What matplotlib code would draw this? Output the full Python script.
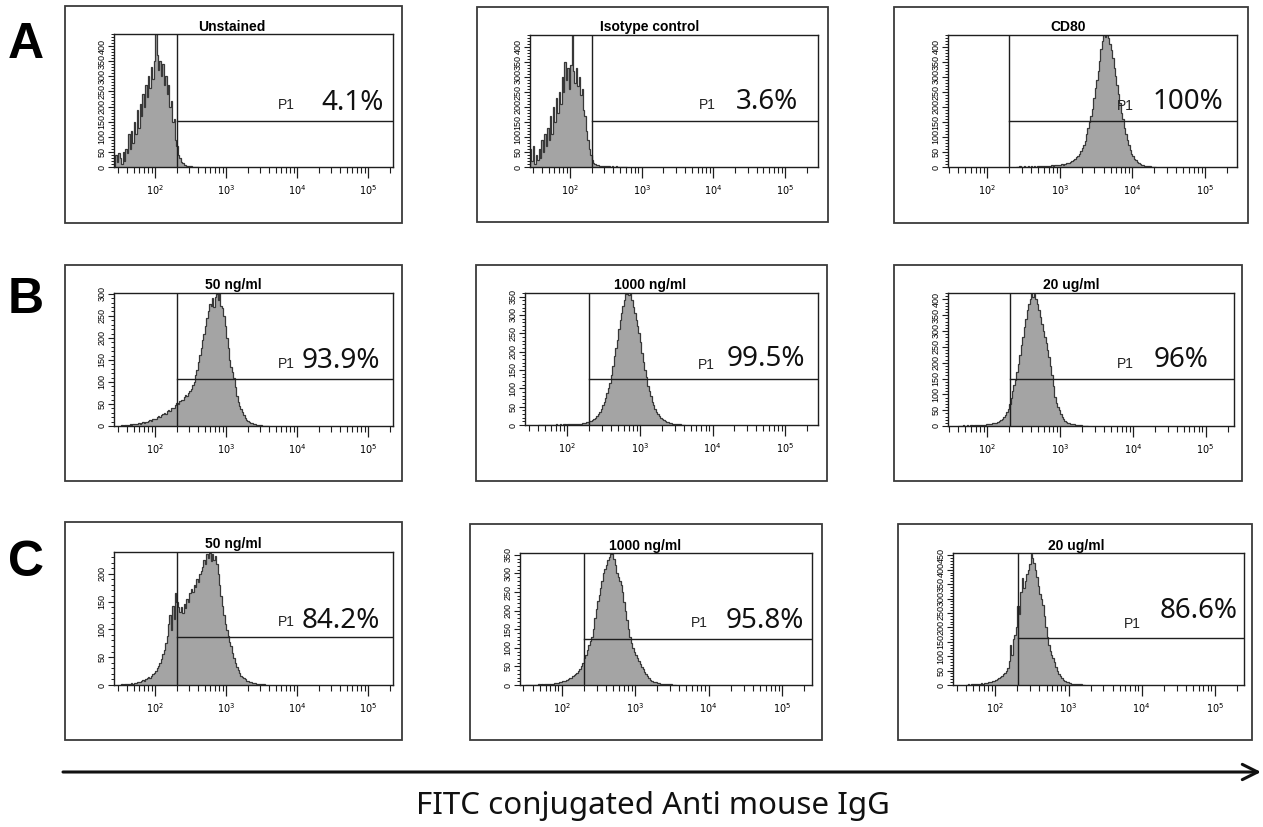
import numpy as np
import matplotlib
matplotlib.use('Agg')
import matplotlib.pyplot as plt
from matplotlib.patches import Rectangle, FancyArrowPatch
from matplotlib.ticker import FixedLocator, LogLocator, MultipleLocator, NullFormatter

# ---------------- data ----------------
row_letters = ['A', 'B', 'C']
titles = ['Unstained', 'Isotype control', 'CD80',
          '50 ng/ml', '1000 ng/ml', '20 ug/ml',
          '50 ng/ml', '1000 ng/ml', '20 ug/ml']
percents = ['4.1%', '3.6%', '100%',
            '93.9%', '99.5%', '96%',
            '84.2%', '95.8%', '86.6%']
gate_label = 'P1'
x_label = 'FITC conjugated Anti mouse IgG'

# y-axis range and the highest labelled tick (counts)
y_max = [440, 440, 440, 302, 360, 420, 239, 355, 458]
y_top_tick = [400, 400, 400, 300, 350, 400, 200, 350, 450]
# P1 gate: lower fluorescence bound (channel) and the gate line height (counts)
gate_channel = 202
gate_height = [152, 152, 152, 107, 126, 148, 86, 125, 162]

# histogram counts; bins of 0.02 decade starting at log10 value hist_start
bin_width = 0.02
hist_start = [1.44, 1.44, 2.40, 1.50, 1.60, 1.60, 1.50, 1.50, 1.60]

a1_counts = [40, 15, 45, 30, 10, 50, 20, 60, 45, 110, 60, 120, 80, 150, 110, 190, 130, 210,
             170, 240, 200, 270, 230, 300, 260, 330, 290, 350, 460, 370, 320, 350, 300, 340,
             270, 300, 240, 270, 200, 220, 150, 160, 90, 70, 40, 30, 18, 12, 8, 6, 4, 3, 2, 2,
             1, 1, 1, 0, 1]
a2_counts = [60, 20, 70, 10, 40, 25, 60, 30, 90, 50, 110, 70, 130, 90, 170, 110, 200, 150,
             230, 180, 250, 210, 300, 250, 350, 290, 330, 260, 340, 460, 320, 280, 330, 270,
             300, 240, 260, 190, 170, 120, 90, 60, 40, 25, 15, 10, 8, 6, 5, 4, 3, 3, 2, 2, 3,
             2, 1, 2, 1, 1, 2, 1, 1, 0, 1, 1, 0, 1]
a3_counts = [1, 0, 2, 0, 1, 2, 1, 0, 2, 1, 2, 1, 3, 1, 2, 3, 2, 3, 4, 3, 4, 5, 4, 5, 6, 5, 6,
             7, 6, 8, 7, 9, 8, 10, 12, 13, 15, 17, 20, 22, 26, 32, 38, 45, 52, 62, 75, 88,
             110, 130, 150, 170, 195, 230, 265, 290, 320, 355, 395, 420, 450, 435, 455, 430,
             410, 390, 365, 330, 305, 275, 245, 215, 180, 160, 130, 110, 90, 72, 58, 45, 38,
             28, 22, 17, 13, 10, 8, 6, 5, 4, 3, 2, 2, 1, 1, 1]
b1_counts = [1, 2, 1, 2, 3, 2, 3, 4, 3, 4, 5, 4, 5, 6, 5, 7, 8, 7, 9, 10, 11, 13, 12, 15, 17,
             16, 20, 22, 21, 25, 27, 29, 28, 33, 36, 35, 40, 42, 41, 47, 52, 50, 56, 60, 58,
             66, 70, 68, 75, 80, 85, 92, 100, 115, 128, 145, 162, 178, 195, 210, 228, 245,
             262, 278, 272, 290, 270, 292, 300, 285, 302, 272, 268, 250, 228, 200, 178, 150,
             135, 122, 108, 88, 68, 55, 45, 38, 32, 25, 19, 14, 11, 9, 7, 6, 5, 4, 3, 3, 2,
             2, 1, 1, 1, 0, 1]
b2_counts = [1, 0, 1, 1, 0, 1, 1, 1, 0, 1, 1, 1, 2, 1, 1, 2, 1, 2, 2, 1, 2, 2, 2, 3, 2, 3, 3,
             4, 3, 4, 5, 5, 6, 7, 8, 10, 12, 14, 17, 20, 24, 30, 36, 44, 54, 63, 75, 88, 100,
             115, 135, 160, 188, 210, 232, 262, 287, 305, 325, 342, 358, 365, 355, 366, 340,
             322, 305, 285, 270, 250, 225, 196, 172, 150, 130, 105, 92, 78, 64, 54, 45, 36,
             30, 24, 20, 16, 13, 11, 9, 7, 6, 5, 4, 3, 3, 2, 2, 2, 1, 1, 1]
b3_counts = [1, 0, 1, 2, 1, 1, 2, 1, 2, 2, 1, 2, 3, 2, 3, 3, 4, 3, 4, 5, 5, 6, 7, 8, 9, 10,
             11, 13, 15, 18, 22, 28, 35, 44, 55, 70, 90, 110, 128, 145, 170, 195, 225, 255,
             280, 312, 338, 365, 385, 400, 425, 408, 418, 400, 385, 365, 345, 322, 300, 280,
             262, 240, 218, 190, 160, 125, 92, 72, 60, 50, 38, 28, 22, 17, 13, 11, 9, 7, 6,
             5, 4, 3, 3, 2, 2, 1, 1, 1, 1]
c1_counts = [0, 1, 0, 1, 1, 2, 1, 2, 3, 2, 4, 3, 5, 6, 5, 7, 9, 8, 11, 12, 14, 13, 17, 19, 21,
             26, 30, 35, 40, 47, 55, 62, 75, 88, 110, 125, 98, 142, 118, 165, 150, 140, 132,
             140, 130, 145, 138, 155, 150, 165, 172, 168, 180, 176, 190, 185, 200, 205, 212,
             225, 218, 235, 228, 238, 222, 236, 225, 232, 218, 200, 180, 160, 142, 125, 110,
             98, 88, 78, 70, 58, 48, 40, 33, 27, 22, 17, 14, 12, 10, 8, 7, 6, 5, 4, 4, 3, 2,
             2, 2, 1, 1, 1]
c2_counts = [1, 0, 1, 0, 1, 1, 0, 1, 1, 2, 1, 2, 1, 2, 2, 3, 2, 3, 4, 3, 5, 6, 5, 7, 9, 10, 12,
             11, 14, 16, 18, 20, 23, 26, 29, 32, 37, 43, 50, 60, 72, 82, 95, 108, 118, 130,
             150, 180, 205, 225, 242, 260, 280, 300, 312, 322, 335, 345, 352, 360, 340, 322,
             300, 290, 280, 268, 250, 222, 198, 175, 150, 128, 112, 100, 88, 80, 72, 64, 56,
             49, 42, 35, 30, 24, 18, 13, 11, 9, 8, 7, 6, 5, 4, 4, 3, 3, 3, 2, 2, 2, 1, 1, 1]
c3_counts = [1, 2, 1, 2, 3, 2, 3, 4, 3, 5, 6, 5, 7, 8, 7, 9, 10, 11, 13, 14, 17, 20, 23, 27,
             32, 38, 42, 48, 60, 82, 140, 105, 160, 175, 200, 275, 245, 322, 370, 335, 360,
             385, 400, 420, 455, 440, 425, 400, 375, 345, 315, 298, 278, 240, 200, 165, 140,
             118, 105, 92, 80, 62, 48, 38, 30, 24, 19, 15, 12, 10, 8, 6, 5, 4, 4, 3, 3, 2, 2,
             1, 1]
counts = [a1_counts, a2_counts, a3_counts, b1_counts, b2_counts, b3_counts,
          c1_counts, c2_counts, c3_counts]

# ---------------- layout (pixels in a 1263x827 canvas) ----------------
W, H = 1263, 827
boxes = [(65, 6, 402, 223), (477, 7, 828, 222), (894, 7, 1248, 223),
         (65, 265, 402, 481), (476, 265, 827, 481), (894, 265, 1242, 481),
         (65, 522, 402, 740), (470, 524, 822, 740), (898, 524, 1252, 740)]
plots = [(114, 34, 393, 167), (530, 35, 818, 167), (948, 35, 1237, 167),
         (114, 293, 393, 426), (525, 293, 818, 425), (948, 293, 1234, 426),
         (114, 552, 393, 685), (520, 553, 812, 685), (953, 553, 1244, 685)]
xlims = [(1.42, 5.35), (1.44, 5.46), (1.46, 5.44),
         (1.42, 5.35), (1.42, 5.45), (1.46, 5.39),
         (1.42, 5.35), (1.43, 5.41), (1.42, 5.40)]
title_pos = [(232, 27), (650, 27), (1068, 27),
             (233, 285), (650, 285), (1071, 285),
             (233, 544), (645, 546), (1076, 546)]
p1_pos = [(286, 105), (707, 105), (1125, 106),
          (286, 364), (706, 365), (1125, 364),
          (286, 622), (699, 623), (1132, 624)]
pct_pos = [(353, 103), (767, 102), (1188, 102),
           (341, 361), (766, 359), (1181, 360),
           (341, 621), (765, 621), (1199, 611)]
letter_pos = [(26, 45), (26, 300), (26, 563)]

FILL = '#a4a4a4'
EDGE = '#383838'
LINE = '#1e1e1e'


def fx(x):
    return x / W


def fy(y):
    return 1 - y / H


fig = plt.figure(figsize=(W / 100, H / 100), dpi=100)
fig.patch.set_facecolor('white')

for i in range(9):
    bx0, by0, bx1, by1 = boxes[i]
    fig.patches.append(Rectangle((fx(bx0), fy(by1)), (bx1 - bx0) / W, (by1 - by0) / H,
                                 transform=fig.transFigure, fill=False, lw=1.3,
                                 ec='#3a3a3a', zorder=0))
    l, t, r, b = plots[i]
    ax = fig.add_axes([fx(l), fy(b), (r - l) / W, (b - t) / H])
    ax.set_xscale('log')
    x0, x1 = xlims[i]
    ax.set_xlim(10 ** x0, 10 ** x1)
    ax.set_ylim(0, y_max[i])
    c = counts[i]
    edges = 10 ** (hist_start[i] + bin_width * np.arange(len(c) + 1))
    ax.stairs(c, edges, fill=True, color=FILL, lw=0, zorder=1)
    ax.stairs(c, edges, color=EDGE, lw=0.9, zorder=2)
    # P1 gate
    ax.axvline(gate_channel, color=LINE, lw=1.0, zorder=3)
    ax.plot([gate_channel, 10 ** x1], [gate_height[i], gate_height[i]],
            color=LINE, lw=1.0, zorder=3)
    # x axis
    ax.xaxis.set_major_locator(FixedLocator([1e2, 1e3, 1e4, 1e5]))
    ax.xaxis.set_minor_locator(LogLocator(base=10, subs=np.arange(2, 10)))
    ax.xaxis.set_minor_formatter(NullFormatter())
    ax.tick_params(axis='x', which='major', direction='out', length=8, width=0.9,
                   labelsize=7, pad=4, color=LINE)
    ax.tick_params(axis='x', which='minor', direction='out', length=4.5, width=0.8,
                   color=LINE)
    # y axis
    yt = list(range(0, y_top_tick[i] + 1, 50))
    ax.set_yticks(yt)
    ax.set_yticklabels([str(v) for v in yt], rotation=90, va='center',
                       fontsize=6.5, family='Liberation Sans')
    ax.yaxis.set_minor_locator(MultipleLocator(10))
    ax.tick_params(axis='y', which='major', direction='out', length=4, width=0.8,
                   pad=1.5, color=LINE)
    ax.tick_params(axis='y', which='minor', direction='out', length=2.2, width=0.7,
                   color=LINE)
    for s in ax.spines.values():
        s.set_linewidth(1.0)
        s.set_color(LINE)

    fig.text(fx(title_pos[i][0]), fy(title_pos[i][1]), titles[i], ha='center',
             va='center', fontsize=10, weight='bold', family='Liberation Sans')
    fig.text(fx(p1_pos[i][0]), fy(p1_pos[i][1]), gate_label, ha='center', va='center',
             fontsize=10, family='Liberation Sans', color='#222222')
    fig.text(fx(pct_pos[i][0]), fy(pct_pos[i][1]), percents[i], ha='center', va='center',
             fontsize=20, family='Noto Sans', color='#111111')

for k, letter in enumerate(row_letters):
    fig.text(fx(letter_pos[k][0]), fy(letter_pos[k][1]), letter, ha='center', va='center',
             fontsize=36, weight='bold', family='Liberation Sans')

arrow = FancyArrowPatch((fx(63), fy(772)), (fx(1261), fy(772)), transform=fig.transFigure,
                        arrowstyle='->,head_length=1.1,head_width=0.55', mutation_scale=10,
                        lw=2.2, color='#111111', shrinkA=0, shrinkB=0)
fig.patches.append(arrow)
fig.text(fx(653), fy(806), x_label, ha='center', va='center', fontsize=22.5,
         family='Noto Sans', color='#111111')

fig.savefig('out.png', dpi=100, facecolor='white')
